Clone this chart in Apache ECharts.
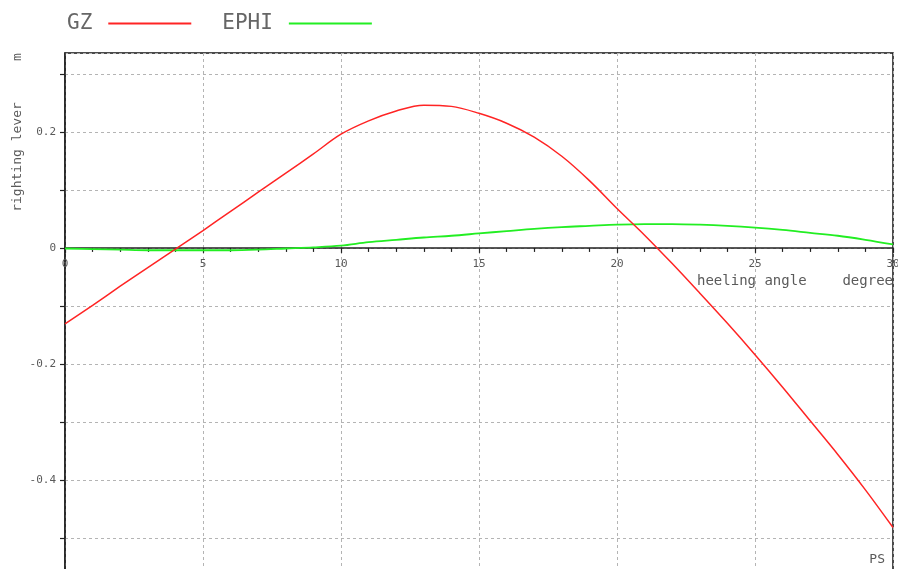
<!DOCTYPE html>
<html>
<head>
<meta charset="utf-8">
<title>Righting lever curve</title>
<script src="https://cdn.jsdelivr.net/npm/echarts@6/dist/echarts.min.js"></script>
<style>
  html, body { margin: 0; padding: 0; background: #fff; }
  #chart { width: 898px; height: 569px; }
</style>
</head>
<body>
<div id="chart"></div>
<script>
// Heeling angle in degrees
const angles = [0, 1, 2, 3, 4, 5, 6, 7, 8, 9, 10, 11, 12, 13, 14, 15, 16, 17, 18, 19, 20,
                21, 22, 23, 24, 25, 26, 27, 28, 29, 30];
// Righting lever GZ (m)
const gz = [-0.131, -0.099, -0.066, -0.034, -0.002, 0.030, 0.063, 0.096, 0.129, 0.162, 0.196,
            0.219, 0.236, 0.246, 0.244, 0.232, 0.215, 0.191, 0.158, 0.116, 0.068,
            0.022, -0.027, -0.078, -0.130, -0.184, -0.240, -0.298, -0.356, -0.417, -0.482];
// Dynamic lever EPHI (m rad)
const ephi = [-0.001, -0.002, -0.003, -0.004, -0.004, -0.004, -0.004, -0.003, -0.001, 0.001, 0.004,
              0.010, 0.014, 0.018, 0.021, 0.025, 0.029, 0.033, 0.036, 0.038, 0.040,
              0.041, 0.041, 0.040, 0.038, 0.035, 0.031, 0.026, 0.021, 0.014, 0.006];

const FONT = '"DejaVu Sans Mono", "Liberation Mono", monospace';
const TEXT = '#5a5a5a';

// Plot frame (px) and value range of the lever axis
const GRID_TOP = 53, GRID_HEIGHT = 543;
const Y_MIN = -0.6, Y_MAX = 0.336;
// Shift the angle axis up so it runs along lever = 0
const zeroOffset = -GRID_HEIGHT * (0 - Y_MIN) / (Y_MAX - Y_MIN);

const pairs = (xs, ys) => xs.map((x, i) => [x, ys[i]]);

const chart = echarts.init(document.getElementById('chart'), null, { renderer: 'canvas' });

chart.setOption({
  animation: false,
  backgroundColor: '#ffffff',
  legend: {
    left: 67,
    top: 13,
    padding: 0,
    align: 'right',
    icon: 'rect',
    itemWidth: 83,
    itemHeight: 2,
    itemGap: 31,
    textStyle: {
      fontFamily: FONT,
      fontSize: 21,
      color: '#666',
      padding: [0, 11, 0, 0]
    },
    data: ['GZ', 'EPHI']
  },
  grid: {
    left: 65,
    top: GRID_TOP,
    width: 828,
    height: GRID_HEIGHT,
    show: true,
    borderColor: '#111',
    borderWidth: 1.5,
    containLabel: false,
    outerBoundsMode: 'none'
  },
  xAxis: {
    type: 'value',
    min: 0,
    max: 30,
    interval: 5,
    position: 'bottom',
    offset: zeroOffset,
    axisLine: { show: true, onZero: false, lineStyle: { color: '#222', width: 1.5 } },
    axisTick: { show: true, inside: false, length: 5, lineStyle: { color: '#222', width: 1.2 } },
    minorTick: { show: true, splitNumber: 5, length: 4, lineStyle: { color: '#222', width: 1.2 } },
    axisLabel: { margin: 11, fontFamily: FONT, fontSize: 11, color: TEXT },
    splitLine: { show: true, lineStyle: { color: '#b4b4b4', type: [3, 3], width: 1 } }
  },
  yAxis: {
    type: 'value',
    min: Y_MIN,
    max: Y_MAX,
    interval: 0.1,
    axisLine: { show: true, onZero: false, lineStyle: { color: '#222', width: 1.5 } },
    axisTick: { show: true, inside: false, length: 5, lineStyle: { color: '#222', width: 1.2 } },
    axisLabel: {
      margin: 9,
      fontFamily: FONT,
      fontSize: 11,
      color: TEXT,
      showMaxLabel: false,
      formatter: function (v) {
        const k = Math.round(v * 10);
        if (Math.abs(v * 10 - k) > 1e-6 || k % 2 !== 0) return '';
        return k === 0 ? '0' : (k / 10).toFixed(1);
      }
    },
    splitLine: { show: true, lineStyle: { color: '#b4b4b4', type: [3, 3], width: 1 } }
  },
  series: [
    {
      name: 'GZ',
      type: 'line',
      data: pairs(angles, gz),
      smooth: 0.35,
      showSymbol: false,
      color: '#ff2424',
      lineStyle: { color: '#ff2424', width: 1.5 },
      z: 3
    },
    {
      name: 'EPHI',
      type: 'line',
      data: pairs(angles, ephi),
      smooth: 0.35,
      showSymbol: false,
      color: '#22ee22',
      lineStyle: { color: '#22ee22', width: 1.8 },
      z: 2
    }
  ],
  graphic: [
    {
      type: 'text',
      x: 18, y: 157,
      rotation: Math.PI / 2,
      style: { text: 'righting lever', font: '13px ' + FONT, fill: TEXT, align: 'center', verticalAlign: 'middle' }
    },
    {
      type: 'text',
      x: 18, y: 57,
      rotation: Math.PI / 2,
      style: { text: 'm', font: '13px ' + FONT, fill: TEXT, align: 'center', verticalAlign: 'middle' }
    },
    {
      type: 'text',
      x: 697, y: 281,
      style: { text: 'heeling angle', font: '14px ' + FONT, fill: TEXT, align: 'left', verticalAlign: 'middle' }
    },
    {
      type: 'text',
      x: 893, y: 281,
      style: { text: 'degree', font: '14px ' + FONT, fill: TEXT, align: 'right', verticalAlign: 'middle' }
    },
    {
      type: 'text',
      x: 885, y: 560,
      style: { text: 'PS', font: '13px ' + FONT, fill: TEXT, align: 'right', verticalAlign: 'middle' }
    }
  ]
});
</script>
</body>
</html>
